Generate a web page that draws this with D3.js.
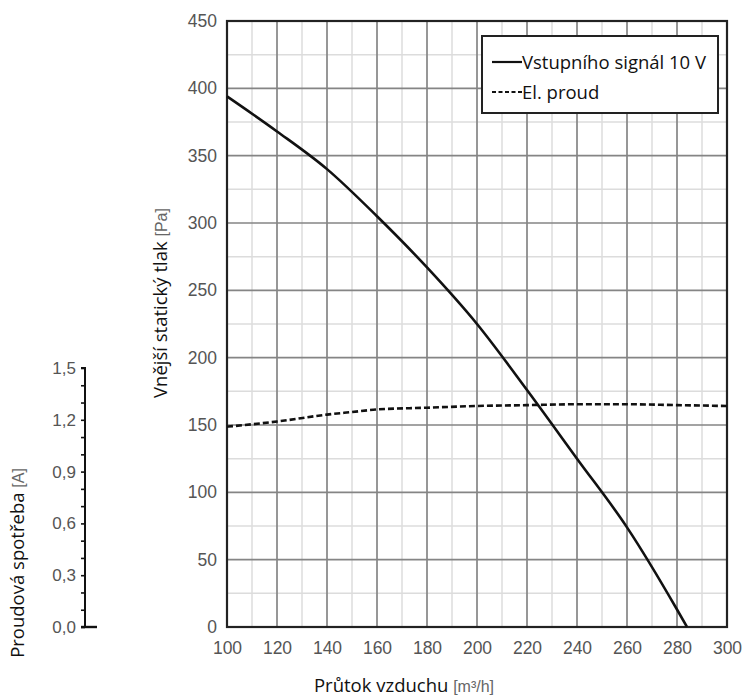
<!DOCTYPE html>
<meta charset="utf-8">
<style>
    body { margin: 0; background: #fff; }
    svg { display: block; }
    .tick text { fill: #555; font-family: "Liberation Sans", Arial, sans-serif; }
    .title { font-family: "Open Sans", sans-serif; fill: #111; }
    .unit { font-family: "Liberation Sans", Arial, sans-serif; fill: #666; }
</style>
<script src="https://d3js.org/d3.v7.min.js"></script>
<svg id="chart" width="744" height="698"></svg>
<script>
    // air flow [m3/h] and external static pressure [Pa] for 10 V input
    var flow = [100, 120, 140, 160, 180, 200, 220, 240, 260, 280, 284];
    var pressure = [394, 368, 340, 305, 267, 225, 176, 125, 74, 13, 0];

    // current draw [A]
    var flowCurrent = [100, 120, 140, 150, 160, 180, 200, 220, 240, 260, 280, 300];
    var current = [1.16, 1.19, 1.23, 1.245, 1.26, 1.27, 1.28, 1.285, 1.29, 1.29, 1.285, 1.28];

    var xTicks = [100, 120, 140, 160, 180, 200, 220, 240, 260, 280, 300];
    var yTicks = [0, 50, 100, 150, 200, 250, 300, 350, 400, 450];

    var legendLabels = ["Vstupního signál 10 V", "El. proud"];

    var svg = d3.select("#chart");

    var plotLeft = 227, plotRight = 727, plotTop = 21, plotBottom = 627;

    var x = d3.scaleLinear().domain([100, 300]).range([plotLeft, plotRight]);
    var y = d3.scaleLinear().domain([0, 450]).range([plotBottom, plotTop]);
    var yA = d3.scaleLinear().domain([0, 1.5]).range([plotBottom, 368]);

    // grid
    var grid = svg.append("g");
    grid.selectAll(".vmin")
        .data(d3.range(110, 300, 20))
        .enter().append("line")
        .attr("x1", function(d) { return x(d); })
        .attr("x2", function(d) { return x(d); })
        .attr("y1", plotTop).attr("y2", plotBottom)
        .style("stroke", "#dcdcdc").style("stroke-width", 1.5);
    grid.selectAll(".hmin")
        .data(d3.range(25, 450, 50))
        .enter().append("line")
        .attr("y1", function(d) { return y(d); })
        .attr("y2", function(d) { return y(d); })
        .attr("x1", plotLeft).attr("x2", plotRight)
        .style("stroke", "#dcdcdc").style("stroke-width", 1.5);
    grid.selectAll(".vmaj")
        .data(xTicks.slice(1, -1))
        .enter().append("line")
        .attr("x1", function(d) { return x(d); })
        .attr("x2", function(d) { return x(d); })
        .attr("y1", plotTop).attr("y2", plotBottom)
        .style("stroke", "#858585").style("stroke-width", 1.7);
    grid.selectAll(".hmaj")
        .data(yTicks.slice(1, -1))
        .enter().append("line")
        .attr("y1", function(d) { return y(d); })
        .attr("y2", function(d) { return y(d); })
        .attr("x1", plotLeft).attr("x2", plotRight)
        .style("stroke", "#858585").style("stroke-width", 1.7);

    // frame
    svg.append("rect")
        .attr("x", plotLeft).attr("y", plotTop)
        .attr("width", plotRight - plotLeft).attr("height", plotBottom - plotTop)
        .style("fill", "none").style("stroke", "#222").style("stroke-width", 2.2);

    // axes (labels only)
    var xAxis = svg.append("g")
        .attr("transform", "translate(0," + plotBottom + ")")
        .call(d3.axisBottom(x).tickValues(xTicks).tickSize(0).tickPadding(15));
    xAxis.select(".domain").remove();
    xAxis.selectAll("text").style("font-size", "17.5px");

    var yAxis = svg.append("g")
        .attr("transform", "translate(" + plotLeft + ",0)")
        .call(d3.axisLeft(y).tickValues(yTicks).tickSize(0).tickPadding(10));
    yAxis.select(".domain").remove();
    yAxis.selectAll("text").style("font-size", "17.5px");

    // current axis
    var aAxis = svg.append("g")
        .attr("transform", "translate(85,0)")
        .call(d3.axisLeft(yA)
            .tickValues(d3.range(0, 16).map(function(i) { return i / 10; }))
            .tickSize(4).tickPadding(5)
            .tickFormat(function(d) {
                var k = Math.round(d * 10);
                return k % 3 === 0 ? d3.format(".1f")(d).replace(".", ",") : "";
            }));
    aAxis.select(".domain").attr("d", "M-4," + yA(1.5) + "H0V" + yA(0))
        .style("stroke", "#111").style("stroke-width", 2);
    aAxis.selectAll(".tick line").style("stroke", "#111").style("stroke-width", 1.6);
    aAxis.selectAll("text").style("font-size", "17px");
    aAxis.append("line")
        .attr("x1", -4).attr("x2", 12)
        .attr("y1", yA(0)).attr("y2", yA(0))
        .style("stroke", "#111").style("stroke-width", 2.4);

    // curves
    var linePa = d3.line()
        .x(function(d) { return x(d[0]); })
        .y(function(d) { return y(d[1]); })
        .curve(d3.curveMonotoneX);
    svg.append("path")
        .datum(d3.zip(flow, pressure))
        .attr("d", linePa)
        .style("fill", "none").style("stroke", "#111").style("stroke-width", 2.6);

    var lineA = d3.line()
        .x(function(d) { return x(d[0]); })
        .y(function(d) { return yA(d[1]); })
        .curve(d3.curveMonotoneX);
    svg.append("path")
        .datum(d3.zip(flowCurrent, current))
        .attr("d", lineA)
        .style("fill", "none").style("stroke", "#111").style("stroke-width", 2.6)
        .style("stroke-dasharray", "6,3");

    // legend
    var legend = svg.append("g");
    legend.append("rect")
        .attr("x", 482).attr("y", 36).attr("width", 236).attr("height", 77)
        .style("fill", "#fff").style("stroke", "#222").style("stroke-width", 2);
    legend.selectAll(".lg")
        .data(legendLabels)
        .enter().append("line")
        .attr("x1", 492).attr("x2", 522)
        .attr("y1", function(d, i) { return 62 + i * 30; })
        .attr("y2", function(d, i) { return 62 + i * 30; })
        .style("stroke", "#111").style("stroke-width", 2.2)
        .style("stroke-dasharray", function(d, i) { return i ? "4,2.5" : null; });
    legend.selectAll(".lt")
        .data(legendLabels)
        .enter().append("text")
        .attr("class", "title")
        .attr("x", 522)
        .attr("y", function(d, i) { return 69 + i * 30; })
        .style("font-size", "18.5px")
        .text(function(d) { return d; });

    // axis titles
    var xt = svg.append("text")
        .attr("x", 404).attr("y", 692)
        .attr("text-anchor", "middle");
    xt.append("tspan").attr("class", "title").style("font-size", "18.5px").text("Průtok vzduchu ");
    xt.append("tspan").attr("class", "unit").style("font-size", "16px").text("[m³/h]");

    var yt = svg.append("text")
        .attr("transform", "translate(167,303) rotate(-90)")
        .attr("text-anchor", "middle");
    yt.append("tspan").attr("class", "title").style("font-size", "18.5px").text("Vnější statický tlak ");
    yt.append("tspan").attr("class", "unit").style("font-size", "16px").text("[Pa]");

    var at = svg.append("text")
        .attr("transform", "translate(24,563) rotate(-90)")
        .attr("text-anchor", "middle");
    at.append("tspan").attr("class", "title").style("font-size", "18.5px").text("Proudová spotřeba ");
    at.append("tspan").attr("class", "unit").style("font-size", "16px").text("[A]");
</script>
